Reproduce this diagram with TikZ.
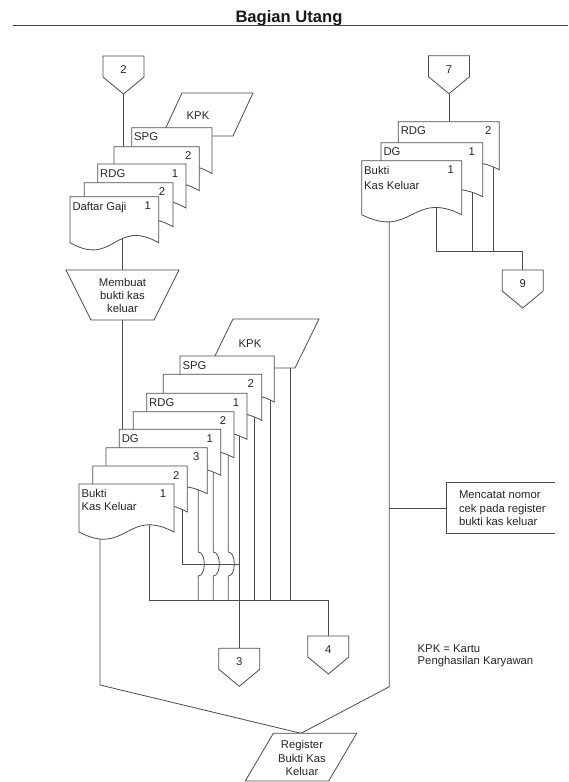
\documentclass[tikz,border=0pt]{standalone}
\usepackage{fontspec}
\setmainfont{Liberation Sans}
\usetikzlibrary{calc}
\pgfdeclarelayer{bottom}
\pgfdeclarelayer{background}
\pgfsetlayers{bottom,background,main}

\tikzset{
  ln/.style={draw=black!70, line width=0.8pt},
  shp/.style={draw=black!70, line width=0.8pt, fill=white},
  box/.style={draw=none, inner sep=0pt, outer sep=0pt},
  txt/.style={font=\fontsize{11.3}{13}\selectfont, text=black!85, inner sep=0pt, outer sep=0pt},
}

% document symbol: name, x, y (top left), width, height, left label, number
\newcommand{\docshape}[7]{%
  \node[box, anchor=north west, minimum width=#4pt, minimum height=#5pt] (#1) at (#2,#3) {};
  \path[shp] (#1.north west) -- (#1.north east) -- (#1.south east)
    .. controls ($(#1.south)+(0,-25)$) and ($(#1.south)+(0,25)$) .. (#1.south west) -- cycle;
  \node[txt, anchor=north west, align=left] (#1-l) at ($(#1.north west)+(2.5,5.2)$) {#6};
  \node[txt] (#1-n) at ($(#1.north east)+(-11,9.3)$) {#7};
}
% parallelogram: name, x (bottom left), y top, box width, height, slant offset
\newcommand{\para}[6]{%
  \node[box, anchor=north west, minimum width=#4pt, minimum height=#5pt] (#1) at (#2,#3) {};
  \path[shp] ($(#1.north west)+(#6,0)$) -- (#1.north east) -- ($(#1.south east)+(-#6,0)$) -- (#1.south west) -- cycle;
}
% off-page connector: name, x centre, y top, label
\newcommand{\offpage}[4]{%
  \node[box, anchor=north, minimum width=41pt, minimum height=38pt] (#1) at (#2,#3) {};
  \path[shp] (#1.north west) -- (#1.north east) -- ($(#1.north east)+(0,21)$) -- (#1.south) -- ($(#1.north west)+(0,21)$) -- cycle;
  \node[txt] (#1-n) at ($(#1.north)+(0,13.5)$) {#4};
}

\begin{document}
\begin{tikzpicture}[x=1pt, y=-1pt]
\useasboundingbox (0,0) rectangle (568,782);
\begin{pgfonlayer}{bottom}
  \fill[white] (0,0) rectangle (568,782);
\end{pgfonlayer}

% title
\node[font=\fontsize{16.6}{19}\selectfont\bfseries, text=black!90, anchor=base, inner sep=0pt] (title) at (289,22.3) {Bagian Utang};
\coordinate (ruleL) at (13,25.5);
\coordinate (ruleR) at (568,25.5);
\draw[line width=0.8pt, black!75] (ruleL) -- (ruleR);

% ---------- left top ----------
\offpage{c2}{123.5}{56}{2}
\para{kpk1}{162}{93}{91}{43}{20}
\node[txt] (kpk1-t) at (198,116) {KPK};
\docshape{spg1}{131.7}{127.7}{80.3}{46}{SPG}{}
\docshape{d2a}{114}{146.7}{85.3}{44}{}{2}
\docshape{rdg1}{97.7}{164}{88.3}{44}{RDG}{1}
\docshape{d2b}{84.3}{182.7}{88.7}{44}{}{2}
\docshape{daftar}{70}{196.7}{88.7}{46}{Daftar Gaji}{1}

\node[box, anchor=north, minimum width=113pt, minimum height=50pt] (mb) at (122.5,270) {};
\path[shp] (mb.north west) -- (mb.north east) -- ($(mb.south east)+(-25,0)$) -- ($(mb.south west)+(25,0)$) -- cycle;
\node[txt, align=center] (mb-t) at (mb.center) {Membuat\\bukti kas\\keluar};

% ---------- middle stack ----------
\para{kpk2}{209}{319}{110}{49}{24}
\node[txt] (kpk2-t) at (250,343.5) {KPK};
\docshape{spg2}{180}{356}{94.3}{46}{SPG}{}
\docshape{d2c}{163.3}{374.3}{98.4}{46}{}{2}
\docshape{rdg2}{146.7}{393.3}{100.3}{46}{RDG}{1}
\docshape{d2d}{133.3}{411.7}{100.7}{46}{}{2}
\docshape{dg2}{119.3}{429.3}{101.4}{46}{DG}{1}
\docshape{d3}{106}{447.7}{101.3}{46}{}{3}
\docshape{d2e}{92.7}{466}{94.6}{46}{}{2}
\docshape{bukti2}{79}{484}{95}{48}{Bukti\\Kas Keluar}{1}

\offpage{c3}{239.3}{648.3}{3}
\offpage{c4}{328.3}{636}{4}

% ---------- right stack ----------
\offpage{c7}{449}{55.7}{7}
\docshape{rdg3}{398.3}{121.7}{101}{48}{RDG}{2}
\docshape{dg3}{381}{142.7}{101.7}{54}{DG}{1}
\docshape{bukti3}{361.7}{160.7}{100}{54}{Bukti\\[2pt]Kas Keluar}{1}
\offpage{c9}{522.7}{270}{9}

% process box (open on the right)
\node[txt, font=\fontsize{11.3}{13.7}\selectfont, align=left, anchor=north west, minimum height=51pt, inner xsep=12.3pt, inner ysep=0pt] (mc) at (446.7,482.7) {Mencatat nomor\\cek pada register\\bukti kas keluar};
\draw[ln] ($(mc.north west)+(108.3,0)$) -- (mc.north west) -- (mc.south west) -- ($(mc.south west)+(108.3,0)$);

% register
\para{reg}{245.3}{733.3}{111.4}{47.7}{28}
\node[txt, font=\fontsize{11.3}{13.3}\selectfont, align=center] (reg-t) at ($(reg.center)+(1,1)$) {Register\\Bukti Kas\\Keluar};

% legend
\node[txt, align=left, anchor=north west, font=\fontsize{11.3}{12.5}\selectfont] (legend) at (417.7,644.3) {KPK = Kartu\\Penghasilan Karyawan};

% ---------- connectors (behind shapes) ----------
\coordinate (lb) at (100,685);
\coordinate (rb) at (389.3,686.7);
\coordinate (h4a) at (149,600);
\coordinate (h3a) at (182.7,564);
\coordinate (j1) at (198.3,600);
\coordinate (j2) at (213.3,600);
\coordinate (j3) at (228.3,600);
\coordinate (j5) at (254.3,600);
\coordinate (j6) at (270,600);
\coordinate (j7) at (290,600);
\coordinate (h9) at (436.7,251.7);
\coordinate (k1) at (472.7,251.7);
\coordinate (k2) at (493.3,251.7);

\begin{pgfonlayer}{background}
  \draw[ln] (c2.south) -- (c2.south |- d2a.north);
  \draw[ln] (daftar.center -| mb.north) -- (mb.north);
  \draw[ln] (mb.south) -- (mb.south |- dg2.north);

  \draw[ln] (bukti2.center -| lb) -- (lb) -- (reg.north);
  \draw[ln] (bukti2.center -| h4a) -- (h4a) -- (h4a -| c4.north) -- (c4.north);
  \draw[ln] (d2e.center -| h3a) -- (h3a) -- (h3a -| c3.north);
  \draw[ln] (rdg2.center -| c3.north) -- (c3.north);
  \draw[ln] (d3.center -| j1) -- ($(j1)+(0,-48)$) .. controls ($(j1)+(8,-48)$) and ($(j1)+(8,-24)$) .. ($(j1)+(0,-24)$) -- (j1);
  \draw[ln] (dg2.center -| j2) -- ($(j2)+(0,-48)$) .. controls ($(j2)+(8,-48)$) and ($(j2)+(8,-24)$) .. ($(j2)+(0,-24)$) -- (j2);
  \draw[ln] (d2d.center -| j3) -- ($(j3)+(0,-48)$) .. controls ($(j3)+(8,-48)$) and ($(j3)+(8,-24)$) .. ($(j3)+(0,-24)$) -- (j3);
  \draw[ln] (d2c.center -| j5) -- (j5);
  \draw[ln] (spg2.center -| j6) -- (j6);
  \draw[ln] (kpk2.center -| j7) -- (j7);

  \draw[ln] (c7.south) -- (c7.south |- rdg3.north);
  \draw[ln] (bukti3.center -| h9) -- (h9) -- (h9 -| c9.north) -- (c9.north);
  \draw[ln] (dg3.center -| k1) -- (k1);
  \draw[ln] (rdg3.center -| k2) -- (k2);
  \draw[ln] (bukti3.center -| rb) -- (rb) -- (reg.north);
  \draw[ln] (rb |- mc.west) -- (mc.west);
\end{pgfonlayer}
\end{tikzpicture}
\end{document}
